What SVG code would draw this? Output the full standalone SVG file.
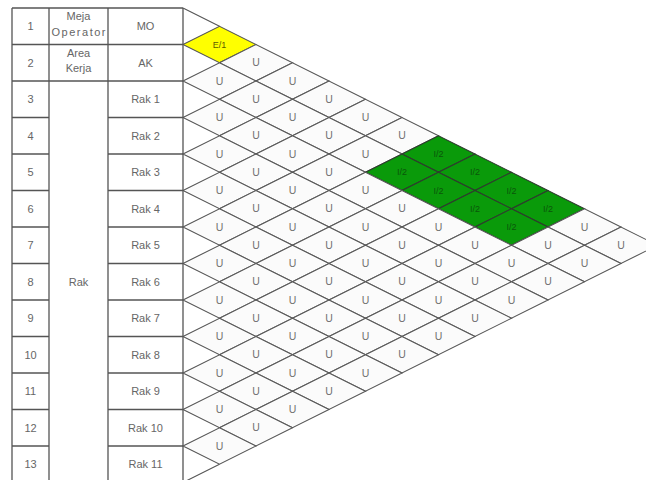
<svg xmlns="http://www.w3.org/2000/svg" xmlns:xlink="http://www.w3.org/1999/xlink" width="646" height="480" viewBox="0 0 646 480">
<style>
.tl{stroke:#555;stroke-width:1.3;fill:none}
.tx{font-family:"Liberation Sans",Arial,sans-serif;font-size:11px;fill:#666;text-anchor:middle}
.dm{stroke:#555;stroke-width:1.1}
.u .dm{fill:#fbfbfb}
.e .dm{fill:#ffff00}
.i .dm{fill:#0a9a0a;stroke:#2e3a2e}
.c text{font-family:"Liberation Sans",Arial,sans-serif;text-anchor:middle}
.u text{font-size:10.5px;fill:#707070}
.e text{font-size:9px;fill:#5c5c00}
.i text{font-size:9px;fill:#0a560a}
.fr{stroke:#555;stroke-width:1.1;fill:none}
</style>
<defs>
<polygon id="d" points="-36.5,0 0,-18.25 36.5,0 0,18.25"/>
</defs>
<rect width="646" height="480" fill="#ffffff"/>
<g id="table">
<path class="tl" d="M12,8V480M49,8V480M108,8V480M183,8V480M12,8H183M12,44.5H183M12,81H183M12,117.5H49M108,117.5H183M12,154H49M108,154H183M12,190.5H49M108,190.5H183M12,227H49M108,227H183M12,263.5H49M108,263.5H183M12,300H49M108,300H183M12,336.5H49M108,336.5H183M12,373H49M108,373H183M12,409.5H49M108,409.5H183M12,446H49M108,446H183"/>
<g id="col-no">
<text class="tx" x="30.5" y="30">1</text>
<text class="tx" x="30.5" y="66.5">2</text>
<text class="tx" x="30.5" y="103">3</text>
<text class="tx" x="30.5" y="139.5">4</text>
<text class="tx" x="30.5" y="176">5</text>
<text class="tx" x="30.5" y="212.5">6</text>
<text class="tx" x="30.5" y="249">7</text>
<text class="tx" x="30.5" y="285.5">8</text>
<text class="tx" x="30.5" y="322">9</text>
<text class="tx" x="30.5" y="358.5">10</text>
<text class="tx" x="30.5" y="395">11</text>
<text class="tx" x="30.5" y="431.5">12</text>
<text class="tx" x="30.5" y="468">13</text>
</g>
<g id="col-area">
<text class="tx" x="78.5" y="20">Meja</text>
<text class="tx" x="78.5" y="36" textLength="54" lengthAdjust="spacing">Operator</text>
<text class="tx" x="78.5" y="57">Area</text>
<text class="tx" x="78.5" y="72">Kerja</text>
<text class="tx" x="78.5" y="285.5">Rak</text>
</g>
<g id="col-code">
<text class="tx" x="145.5" y="30">MO</text>
<text class="tx" x="145.5" y="66.5">AK</text>
<text class="tx" x="145.5" y="103">Rak 1</text>
<text class="tx" x="145.5" y="139.5">Rak 2</text>
<text class="tx" x="145.5" y="176">Rak 3</text>
<text class="tx" x="145.5" y="212.5">Rak 4</text>
<text class="tx" x="145.5" y="249">Rak 5</text>
<text class="tx" x="145.5" y="285.5">Rak 6</text>
<text class="tx" x="145.5" y="322">Rak 7</text>
<text class="tx" x="145.5" y="358.5">Rak 8</text>
<text class="tx" x="145.5" y="395">Rak 9</text>
<text class="tx" x="145.5" y="431.5">Rak 10</text>
<text class="tx" x="145.5" y="468">Rak 11</text>
</g>
</g>
<g id="connectors">
<path class="fr" d="M183,8L219.5,26.25M183,482.5L219.5,464.25"/>
</g>
<g id="chart">
<g id="c1-2" class="c e" transform="translate(219.5,44.5)"><use xlink:href="#d" class="dm"/><text y="3">E/1</text></g>
<g id="c1-3" class="c u" transform="translate(256,62.75)"><use xlink:href="#d" class="dm"/><text y="3.5">U</text></g>
<g id="c1-4" class="c u" transform="translate(292.5,81)"><use xlink:href="#d" class="dm"/><text y="3.5">U</text></g>
<g id="c1-5" class="c u" transform="translate(329,99.25)"><use xlink:href="#d" class="dm"/><text y="3.5">U</text></g>
<g id="c1-6" class="c u" transform="translate(365.5,117.5)"><use xlink:href="#d" class="dm"/><text y="3.5">U</text></g>
<g id="c1-7" class="c u" transform="translate(402,135.75)"><use xlink:href="#d" class="dm"/><text y="3.5">U</text></g>
<g id="c1-8" class="c i" transform="translate(438.5,154)"><use xlink:href="#d" class="dm"/><text y="3">I/2</text></g>
<g id="c1-9" class="c i" transform="translate(475,172.25)"><use xlink:href="#d" class="dm"/><text y="3">I/2</text></g>
<g id="c1-10" class="c i" transform="translate(511.5,190.5)"><use xlink:href="#d" class="dm"/><text y="3">I/2</text></g>
<g id="c1-11" class="c i" transform="translate(548,208.75)"><use xlink:href="#d" class="dm"/><text y="3">I/2</text></g>
<g id="c1-12" class="c u" transform="translate(584.5,227)"><use xlink:href="#d" class="dm"/><text y="3.5">U</text></g>
<g id="c1-13" class="c u" transform="translate(621,245.25)"><use xlink:href="#d" class="dm"/><text y="3.5">U</text></g>
<g id="c2-3" class="c u" transform="translate(219.5,81)"><use xlink:href="#d" class="dm"/><text y="3.5">U</text></g>
<g id="c2-4" class="c u" transform="translate(256,99.25)"><use xlink:href="#d" class="dm"/><text y="3.5">U</text></g>
<g id="c2-5" class="c u" transform="translate(292.5,117.5)"><use xlink:href="#d" class="dm"/><text y="3.5">U</text></g>
<g id="c2-6" class="c u" transform="translate(329,135.75)"><use xlink:href="#d" class="dm"/><text y="3.5">U</text></g>
<g id="c2-7" class="c u" transform="translate(365.5,154)"><use xlink:href="#d" class="dm"/><text y="3.5">U</text></g>
<g id="c2-8" class="c i" transform="translate(402,172.25)"><use xlink:href="#d" class="dm"/><text y="3">I/2</text></g>
<g id="c2-9" class="c i" transform="translate(438.5,190.5)"><use xlink:href="#d" class="dm"/><text y="3">I/2</text></g>
<g id="c2-10" class="c i" transform="translate(475,208.75)"><use xlink:href="#d" class="dm"/><text y="3">I/2</text></g>
<g id="c2-11" class="c i" transform="translate(511.5,227)"><use xlink:href="#d" class="dm"/><text y="3">I/2</text></g>
<g id="c2-12" class="c u" transform="translate(548,245.25)"><use xlink:href="#d" class="dm"/><text y="3.5">U</text></g>
<g id="c2-13" class="c u" transform="translate(584.5,263.5)"><use xlink:href="#d" class="dm"/><text y="3.5">U</text></g>
<g id="c3-4" class="c u" transform="translate(219.5,117.5)"><use xlink:href="#d" class="dm"/><text y="3.5">U</text></g>
<g id="c3-5" class="c u" transform="translate(256,135.75)"><use xlink:href="#d" class="dm"/><text y="3.5">U</text></g>
<g id="c3-6" class="c u" transform="translate(292.5,154)"><use xlink:href="#d" class="dm"/><text y="3.5">U</text></g>
<g id="c3-7" class="c u" transform="translate(329,172.25)"><use xlink:href="#d" class="dm"/><text y="3.5">U</text></g>
<g id="c3-8" class="c u" transform="translate(365.5,190.5)"><use xlink:href="#d" class="dm"/><text y="3.5">U</text></g>
<g id="c3-9" class="c u" transform="translate(402,208.75)"><use xlink:href="#d" class="dm"/><text y="3.5">U</text></g>
<g id="c3-10" class="c u" transform="translate(438.5,227)"><use xlink:href="#d" class="dm"/><text y="3.5">U</text></g>
<g id="c3-11" class="c u" transform="translate(475,245.25)"><use xlink:href="#d" class="dm"/><text y="3.5">U</text></g>
<g id="c3-12" class="c u" transform="translate(511.5,263.5)"><use xlink:href="#d" class="dm"/><text y="3.5">U</text></g>
<g id="c3-13" class="c u" transform="translate(548,281.75)"><use xlink:href="#d" class="dm"/><text y="3.5">U</text></g>
<g id="c4-5" class="c u" transform="translate(219.5,154)"><use xlink:href="#d" class="dm"/><text y="3.5">U</text></g>
<g id="c4-6" class="c u" transform="translate(256,172.25)"><use xlink:href="#d" class="dm"/><text y="3.5">U</text></g>
<g id="c4-7" class="c u" transform="translate(292.5,190.5)"><use xlink:href="#d" class="dm"/><text y="3.5">U</text></g>
<g id="c4-8" class="c u" transform="translate(329,208.75)"><use xlink:href="#d" class="dm"/><text y="3.5">U</text></g>
<g id="c4-9" class="c u" transform="translate(365.5,227)"><use xlink:href="#d" class="dm"/><text y="3.5">U</text></g>
<g id="c4-10" class="c u" transform="translate(402,245.25)"><use xlink:href="#d" class="dm"/><text y="3.5">U</text></g>
<g id="c4-11" class="c u" transform="translate(438.5,263.5)"><use xlink:href="#d" class="dm"/><text y="3.5">U</text></g>
<g id="c4-12" class="c u" transform="translate(475,281.75)"><use xlink:href="#d" class="dm"/><text y="3.5">U</text></g>
<g id="c4-13" class="c u" transform="translate(511.5,300)"><use xlink:href="#d" class="dm"/><text y="3.5">U</text></g>
<g id="c5-6" class="c u" transform="translate(219.5,190.5)"><use xlink:href="#d" class="dm"/><text y="3.5">U</text></g>
<g id="c5-7" class="c u" transform="translate(256,208.75)"><use xlink:href="#d" class="dm"/><text y="3.5">U</text></g>
<g id="c5-8" class="c u" transform="translate(292.5,227)"><use xlink:href="#d" class="dm"/><text y="3.5">U</text></g>
<g id="c5-9" class="c u" transform="translate(329,245.25)"><use xlink:href="#d" class="dm"/><text y="3.5">U</text></g>
<g id="c5-10" class="c u" transform="translate(365.5,263.5)"><use xlink:href="#d" class="dm"/><text y="3.5">U</text></g>
<g id="c5-11" class="c u" transform="translate(402,281.75)"><use xlink:href="#d" class="dm"/><text y="3.5">U</text></g>
<g id="c5-12" class="c u" transform="translate(438.5,300)"><use xlink:href="#d" class="dm"/><text y="3.5">U</text></g>
<g id="c5-13" class="c u" transform="translate(475,318.25)"><use xlink:href="#d" class="dm"/><text y="3.5">U</text></g>
<g id="c6-7" class="c u" transform="translate(219.5,227)"><use xlink:href="#d" class="dm"/><text y="3.5">U</text></g>
<g id="c6-8" class="c u" transform="translate(256,245.25)"><use xlink:href="#d" class="dm"/><text y="3.5">U</text></g>
<g id="c6-9" class="c u" transform="translate(292.5,263.5)"><use xlink:href="#d" class="dm"/><text y="3.5">U</text></g>
<g id="c6-10" class="c u" transform="translate(329,281.75)"><use xlink:href="#d" class="dm"/><text y="3.5">U</text></g>
<g id="c6-11" class="c u" transform="translate(365.5,300)"><use xlink:href="#d" class="dm"/><text y="3.5">U</text></g>
<g id="c6-12" class="c u" transform="translate(402,318.25)"><use xlink:href="#d" class="dm"/><text y="3.5">U</text></g>
<g id="c6-13" class="c u" transform="translate(438.5,336.5)"><use xlink:href="#d" class="dm"/><text y="3.5">U</text></g>
<g id="c7-8" class="c u" transform="translate(219.5,263.5)"><use xlink:href="#d" class="dm"/><text y="3.5">U</text></g>
<g id="c7-9" class="c u" transform="translate(256,281.75)"><use xlink:href="#d" class="dm"/><text y="3.5">U</text></g>
<g id="c7-10" class="c u" transform="translate(292.5,300)"><use xlink:href="#d" class="dm"/><text y="3.5">U</text></g>
<g id="c7-11" class="c u" transform="translate(329,318.25)"><use xlink:href="#d" class="dm"/><text y="3.5">U</text></g>
<g id="c7-12" class="c u" transform="translate(365.5,336.5)"><use xlink:href="#d" class="dm"/><text y="3.5">U</text></g>
<g id="c7-13" class="c u" transform="translate(402,354.75)"><use xlink:href="#d" class="dm"/><text y="3.5">U</text></g>
<g id="c8-9" class="c u" transform="translate(219.5,300)"><use xlink:href="#d" class="dm"/><text y="3.5">U</text></g>
<g id="c8-10" class="c u" transform="translate(256,318.25)"><use xlink:href="#d" class="dm"/><text y="3.5">U</text></g>
<g id="c8-11" class="c u" transform="translate(292.5,336.5)"><use xlink:href="#d" class="dm"/><text y="3.5">U</text></g>
<g id="c8-12" class="c u" transform="translate(329,354.75)"><use xlink:href="#d" class="dm"/><text y="3.5">U</text></g>
<g id="c8-13" class="c u" transform="translate(365.5,373)"><use xlink:href="#d" class="dm"/><text y="3.5">U</text></g>
<g id="c9-10" class="c u" transform="translate(219.5,336.5)"><use xlink:href="#d" class="dm"/><text y="3.5">U</text></g>
<g id="c9-11" class="c u" transform="translate(256,354.75)"><use xlink:href="#d" class="dm"/><text y="3.5">U</text></g>
<g id="c9-12" class="c u" transform="translate(292.5,373)"><use xlink:href="#d" class="dm"/><text y="3.5">U</text></g>
<g id="c9-13" class="c u" transform="translate(329,391.25)"><use xlink:href="#d" class="dm"/><text y="3.5">U</text></g>
<g id="c10-11" class="c u" transform="translate(219.5,373)"><use xlink:href="#d" class="dm"/><text y="3.5">U</text></g>
<g id="c10-12" class="c u" transform="translate(256,391.25)"><use xlink:href="#d" class="dm"/><text y="3.5">U</text></g>
<g id="c10-13" class="c u" transform="translate(292.5,409.5)"><use xlink:href="#d" class="dm"/><text y="3.5">U</text></g>
<g id="c11-12" class="c u" transform="translate(219.5,409.5)"><use xlink:href="#d" class="dm"/><text y="3.5">U</text></g>
<g id="c11-13" class="c u" transform="translate(256,427.75)"><use xlink:href="#d" class="dm"/><text y="3.5">U</text></g>
<g id="c12-13" class="c u" transform="translate(219.5,446)"><use xlink:href="#d" class="dm"/><text y="3.5">U</text></g>
</g>
</svg>
